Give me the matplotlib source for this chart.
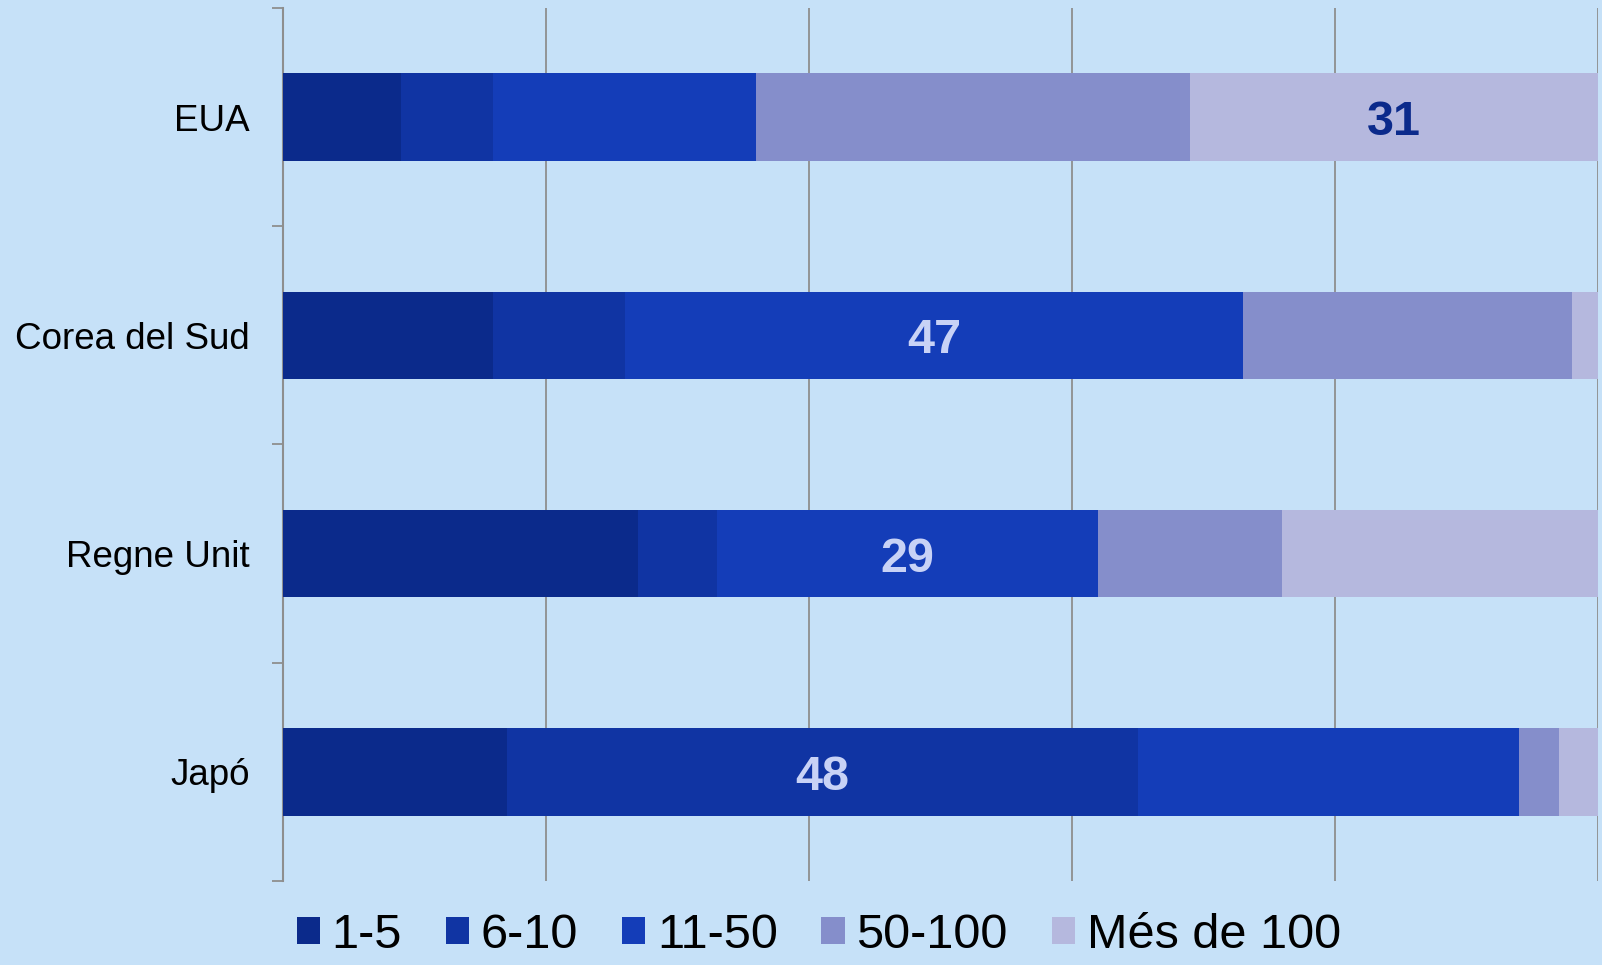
import matplotlib
matplotlib.use("Agg")
import matplotlib.pyplot as plt
from matplotlib.patches import Patch
import numpy as np

countries = ["EUA", "Corea del Sud", "Regne Unit", "Japó"]
series_names = ["1-5", "6-10", "11-50", "50-100", "Més de 100"]
v_1_5 = [9, 16, 27, 17]
v_6_10 = [7, 10, 6, 48]
v_11_50 = [20, 47, 29, 29]
v_50_100 = [33, 25, 14, 3]
v_mes_100 = [31, 2, 24, 3]
# which segment is labelled for each country (series index)
label_series = [4, 2, 2, 1]

colors = ["#0b2a8b", "#1034a3", "#143db8", "#858ecb", "#b5b8de"]
label_colors = {4: "#0b2a8b", 2: "#c8d2f6", 1: "#c8d2f6"}
bg = "#c6e1f8"

plt.rcParams['font.family'] = ['Liberation Sans', 'DejaVu Sans']

fig = plt.figure(figsize=(16.02, 9.65), dpi=100, facecolor=bg)
ax = fig.add_axes([283/1602, 1-881/965, (1598-283)/1602, (881-8)/965])
ax.set_facecolor(bg)

series = [v_1_5, v_6_10, v_11_50, v_50_100, v_mes_100]
y = np.arange(len(countries))
left = np.zeros(len(countries))
bars = []
for name, vals, c in zip(series_names, series, colors):
    ax.barh(y, vals, left=left, height=0.4, color=c, label=name, zorder=3)
    bars.append((np.array(vals, float), left.copy()))
    left = left + np.array(vals, float)

for i, si in enumerate(label_series):
    vals, lefts = bars[si]
    ax.text(lefts[i] + vals[i] / 2, y[i] + 0.082, f"{int(vals[i])}", ha="center", va="baseline",
            fontsize=35, fontweight="bold", color=label_colors[si], zorder=4)

ax.set_xlim(0, 100)
ax.set_ylim(3.5, -0.5)
ax.set_xticks([20, 40, 60, 80, 100])
ax.set_xticklabels([])
ax.tick_params(axis="x", length=0)
ax.grid(axis="x", color="#8e8e8e", linewidth=1.3, zorder=1)

ax.set_yticks(y)
ax.set_yticklabels(countries, fontsize=26.5)
ax.tick_params(axis="y", which="major", length=0, pad=24)
ax.set_yticks(np.arange(-0.5, 4.0, 1.0), minor=True)
ax.tick_params(axis="y", which="minor", length=8, width=1.3, color="#8e8e8e")

for s in ["top", "right", "bottom"]:
    ax.spines[s].set_visible(False)
ax.spines["left"].set_color("#8e8e8e")
ax.spines["left"].set_linewidth(1.5)

handles = [Patch(facecolor=c, edgecolor="none") for c in colors]
fig.legend(handles, series_names, loc="center", bbox_to_anchor=(0.511, 0.031),
           ncol=5, frameon=False, fontsize=35, handlelength=0.48, handleheight=0.48,
           handletextpad=0.24, columnspacing=0.9, borderpad=0, borderaxespad=0)

fig.savefig("out.png", dpi=100, facecolor=bg)
